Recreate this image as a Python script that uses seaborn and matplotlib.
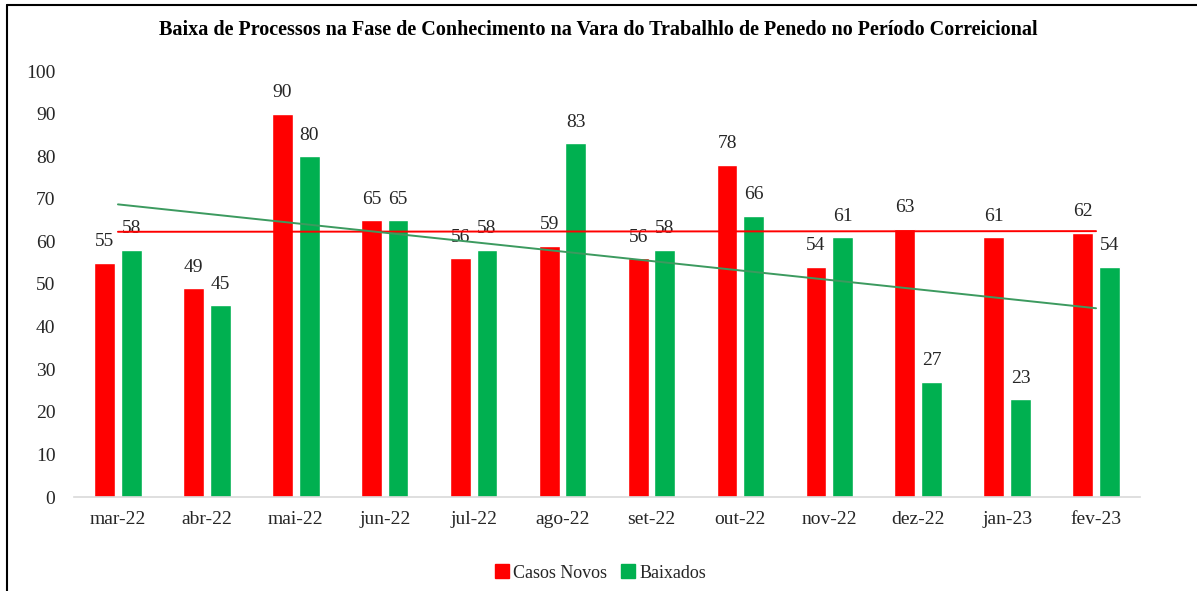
import numpy as np
import pandas as pd
import seaborn as sns
import matplotlib.pyplot as plt
from matplotlib.lines import Line2D

meses = ["mar-22", "abr-22", "mai-22", "jun-22", "jul-22", "ago-22",
         "set-22", "out-22", "nov-22", "dez-22", "jan-23", "fev-23"]
casos_novos = [55, 49, 90, 65, 56, 59, 56, 78, 54, 63, 61, 62]
baixados = [58, 45, 80, 65, 58, 83, 58, 66, 61, 27, 23, 54]
series = ["Casos Novos", "Baixados"]
cores = {"Casos Novos": "#FF0000", "Baixados": "#00B050"}

df = pd.DataFrame({
    "Mes": meses * 2,
    "Valor": casos_novos + baixados,
    "Serie": ["Casos Novos"] * len(meses) + ["Baixados"] * len(meses),
})

sns.set_theme(style="white")
plt.rcParams['font.family'] = ['Liberation Serif', 'DejaVu Serif']

fig = plt.figure(figsize=(11.97, 5.91), dpi=100)
ax = fig.add_axes([73.5 / 1197, 1 - 497 / 591, (1140.5 - 73.5) / 1197, (497 - 71) / 591])

sns.barplot(data=df, x="Mes", y="Valor", hue="Serie", hue_order=series,
            palette=cores, width=0.6, gap=0.22, ax=ax, legend=False,
            saturation=1)

# rotulos de dados
for cont in ax.containers:
    ax.bar_label(cont, padding=9, fontsize=14, color="#262626")

# linhas de tendencia
x = np.arange(len(meses))
for nome, vals, cor in [("Casos Novos", casos_novos, "#FF0000"),
                        ("Baixados", baixados, "#3C9A5F")]:
    a, b = np.polyfit(x, vals, 1)
    ax.plot(x, a * x + b, color=cor, lw=1.4, zorder=5)

ax.set_ylim(0, 100)
ax.set_xlim(-0.5, len(meses) - 0.5)
ax.set_yticks(range(0, 101, 10))
ax.set_xlabel("")
ax.set_ylabel("")
ax.tick_params(axis="both", length=0, labelsize=14, colors="#262626")
ax.tick_params(axis="x", pad=10)
ax.tick_params(axis="y", pad=13)
for s in ["top", "right", "left"]:
    ax.spines[s].set_visible(False)
ax.spines["bottom"].set_color("#D9D9D9")
ax.spines["bottom"].set_linewidth(1.2)

fig.text(0.5, 1 - 30 / 591, "Baixa de Processos na Fase de Conhecimento na Vara do Trabalhlo de Penedo no Período Correicional",
         ha="center", va="center", fontsize=14.5, fontweight="bold", color="black")

handles = [Line2D([], [], marker="s", ls="", markersize=10, color=cores[s]) for s in series]
fig.legend(handles, series, loc="center", bbox_to_anchor=(0.5, 1 - 573 / 591), ncol=2,
           frameon=False, fontsize=13, handletextpad=0.0, columnspacing=0.6,
           handlelength=1.2)

# moldura do grafico
fig.add_artist(Line2D([7 / 1197, 1.0], [1 - 5 / 591] * 2, transform=fig.transFigure, color="black", lw=1.5))
fig.add_artist(Line2D([7 / 1197] * 2, [0, 1 - 5 / 591], transform=fig.transFigure, color="black", lw=1.5))

fig.savefig("out.png", dpi=100)
